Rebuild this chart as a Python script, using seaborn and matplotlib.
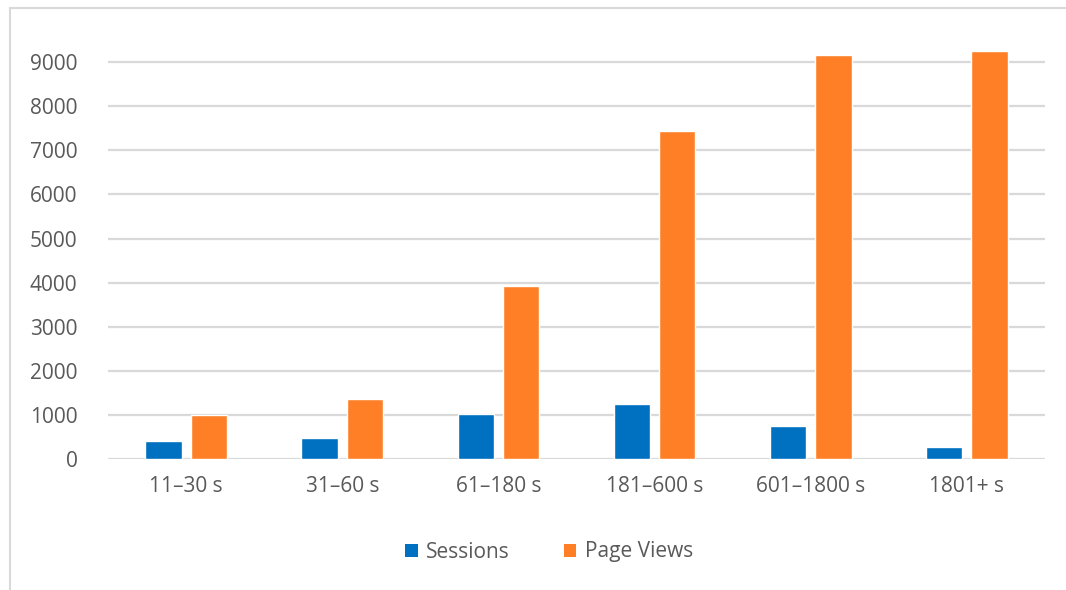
import matplotlib
matplotlib.use("Agg")
import matplotlib.pyplot as plt
from matplotlib.lines import Line2D
from matplotlib.patches import Patch
import seaborn as sns
import pandas as pd

# Session-duration buckets and counts
durations = ["11–30 s", "31–60 s", "61–180 s", "181–600 s", "601–1800 s", "1801+ s"]
sessions = [400, 465, 1010, 1240, 750, 270]
page_views = [995, 1365, 3935, 7445, 9165, 9255]
y_ticks = [0, 1000, 2000, 3000, 4000, 5000, 6000, 7000, 8000, 9000]

series_names = ["Sessions", "Page Views"]
series_colors = ["#0070C0", "#FF7F27"]

df = pd.DataFrame({
    "Duration": durations * 2,
    "Count": sessions + page_views,
    "Series": [series_names[0]] * len(durations) + [series_names[1]] * len(durations),
})

sns.set_theme(style="white")
plt.rcParams["font.family"] = ["Open Sans", "DejaVu Sans"]

W, H = 1066, 590
fig = plt.figure(figsize=(W / 100, H / 100), dpi=100)
ax = fig.add_axes([108 / W, 1 - 459 / H, (1045 - 108) / W, (459 - 15) / H])

sns.barplot(data=df, x="Duration", y="Count", hue="Series", order=durations,
            hue_order=series_names, palette=series_colors, width=0.58, gap=0.2,
            saturation=1, ax=ax, legend=False, zorder=3)

ax.set_xlim(-0.5, len(durations) - 0.5)
ax.set_ylim(0, 10070)
ax.set_yticks(y_ticks)
ax.set_yticklabels([str(t) for t in y_ticks])
ax.yaxis.grid(True, color="#D9D9D9", linewidth=1.6, zorder=0)
ax.set_axisbelow(True)
for s in ax.spines.values():
    s.set_visible(False)
ax.set_xlabel("")
ax.set_ylabel("")
ax.tick_params(axis="y", length=0, pad=22, labelsize=15, labelcolor="#595959")
ax.tick_params(axis="x", length=0, pad=12, labelsize=15, labelcolor="#595959")

# Legend below the plot
handles = [Patch(facecolor=c, edgecolor="none") for c in series_colors]
fig.legend(handles, series_names, loc="center", bbox_to_anchor=(549 / W, 1 - 552 / H),
           ncol=2, frameon=False, fontsize=15, labelcolor="#595959",
           handlelength=0.6, handleheight=0.6, handletextpad=0.4, columnspacing=2.6)

# Light chart-area frame (top and left edges)
fig.add_artist(Line2D([10 / W, 1], [1 - 8 / H, 1 - 8 / H], transform=fig.transFigure,
                      color="#D9D9D9", linewidth=1.5))
fig.add_artist(Line2D([10 / W, 10 / W], [0, 1 - 8 / H], transform=fig.transFigure,
                      color="#D9D9D9", linewidth=1.5))

fig.savefig("out.png", dpi=100, facecolor="white")
